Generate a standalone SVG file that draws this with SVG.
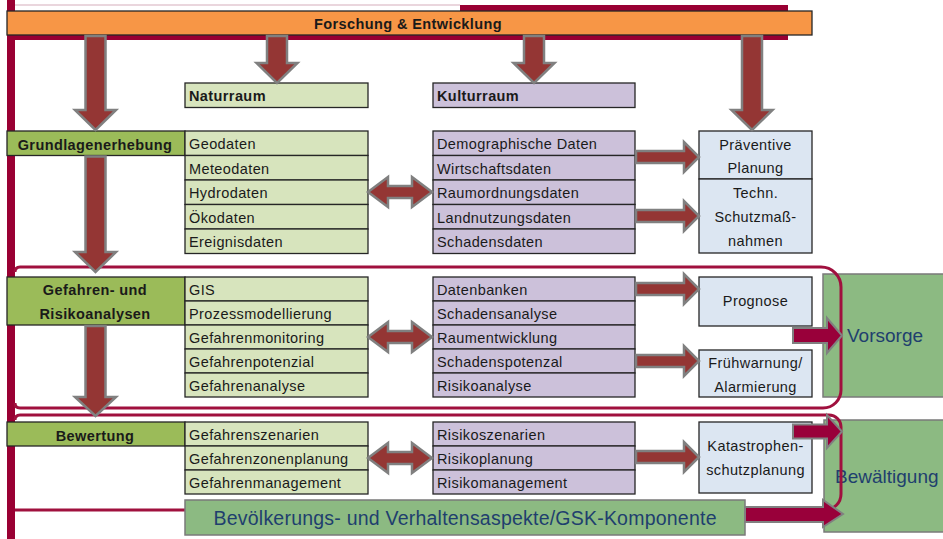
<svg xmlns="http://www.w3.org/2000/svg" width="943" height="539" viewBox="0 0 943 539">
<style>
.t{font-family:"Liberation Sans",Arial,sans-serif;font-size:14.5px;letter-spacing:0.4px;fill:#1a1a1a}
.b{font-weight:bold}
.c{text-anchor:middle}
.box{stroke:#262626;stroke-width:1.3}
.g1{fill:#9BBB59}.g2{fill:#D7E4BD}.pu{fill:#CCC1DA}.bl{fill:#DCE6F2}.or{fill:#F79646}
.big{fill:#8CBA82;stroke:#7a7a7a;stroke-width:1.5}
.bt{font-family:"Liberation Sans",Arial,sans-serif;fill:#1F3F6E}
.arr{fill:#943634;stroke:#808080;stroke-width:2.5}
.carr{fill:#99003A;stroke:#808080;stroke-width:2}
.frame{fill:none;stroke:#A0103E;stroke-width:3}
.crim{fill:#990033}
</style>
<rect width="943" height="539" fill="#fff"/>
<!-- crimson frame -->
<g id="frame">
<rect class="crim" x="7" y="0" width="8" height="539"/>
<line x1="15" y1="5" x2="460" y2="5" stroke="#e3c8d2" stroke-width="1.5"/>
<rect class="crim" x="460" y="5" width="328" height="8"/>
<rect class="crim" x="7" y="34" width="781" height="6"/>
</g>
<g id="vorsorge">
<rect class="big" x="823" y="274" width="125" height="123"/>
<text class="bt" x="847" y="342" font-size="19">Vorsorge</text>
</g>
<g id="bewaeltigung">
<rect class="big" x="824" y="420" width="125" height="112"/>
<text class="bt" x="835" y="483" font-size="19">Bewältigung</text>
</g>
<g id="phases">
<path class="frame" d="M15,272 Q15,267 20,267 H821 A20,20 0 0 1 841,287 V390 A18,18 0 0 1 823,408 H20 Q15,408 15,403"/>
<path class="frame" d="M15,420 Q15,415 20,415 H829 A12,12 0 0 1 841,427 V494 A16,16 0 0 1 825,510 H15"/>
</g>
<g id="forschung">
<rect class="or box" x="7" y="11" width="805" height="24"/>
<text class="t b c" x="408" y="28.5">Forschung &amp; Entwicklung</text>
</g>
<g id="naturraum">
<rect class="g2 box" x="185" y="83" width="183" height="24.5"/>
<text class="t b" x="189" y="101">Naturraum</text>
</g>
<g id="kulturraum">
<rect class="pu box" x="433" y="83" width="202" height="24.5"/>
<text class="t b" x="437" y="101">Kulturraum</text>
</g>
<g id="grundlagenerhebung">
<rect class="g1 box" x="7" y="131" width="178" height="24.5"/>
<text class="t b c" x="95" y="149.5">Grundlagenerhebung</text>
</g>
<g id="natur-grundlagen">
<rect class="g2 box" x="185" y="131" width="183" height="24.5"/>
<rect class="g2 box" x="185" y="155.5" width="183" height="24.5"/>
<rect class="g2 box" x="185" y="180" width="183" height="24.5"/>
<rect class="g2 box" x="185" y="204.5" width="183" height="24.5"/>
<rect class="g2 box" x="185" y="229" width="183" height="24.5"/>
<text class="t" x="189" y="149">Geodaten</text>
<text class="t" x="189" y="173.5">Meteodaten</text>
<text class="t" x="189" y="198">Hydrodaten</text>
<text class="t" x="189" y="222.5">Ökodaten</text>
<text class="t" x="189" y="247">Ereignisdaten</text>
</g>
<g id="kultur-grundlagen">
<rect class="pu box" x="433" y="131" width="202" height="24.5"/>
<rect class="pu box" x="433" y="155.5" width="202" height="24.5"/>
<rect class="pu box" x="433" y="180" width="202" height="24.5"/>
<rect class="pu box" x="433" y="204.5" width="202" height="24.5"/>
<rect class="pu box" x="433" y="229" width="202" height="24.5"/>
<text class="t" x="437" y="149">Demographische Daten</text>
<text class="t" x="437" y="173.5">Wirtschaftsdaten</text>
<text class="t" x="437" y="198">Raumordnungsdaten</text>
<text class="t" x="437" y="222.5">Landnutzungsdaten</text>
<text class="t" x="437" y="247">Schadensdaten</text>
</g>
<g id="praeventive-planung">
<rect class="bl box" x="699" y="131" width="113" height="48"/>
<text class="t c" x="755.5" y="150">Präventive</text>
<text class="t c" x="755.5" y="173">Planung</text>
</g>
<g id="techn-schutz">
<rect class="bl box" x="699" y="179" width="113" height="74"/>
<text class="t c" x="755.5" y="198">Techn.</text>
<text class="t c" x="755.5" y="222">Schutzmaß-</text>
<text class="t c" x="755.5" y="245.5">nahmen</text>
</g>
<g id="gefahren-risikoanalysen">
<rect class="g1 box" x="7" y="277" width="178" height="48"/>
<text class="t b c" x="95" y="295">Gefahren- und</text>
<text class="t b c" x="95" y="318.5">Risikoanalysen</text>
</g>
<g id="natur-analysen">
<rect class="g2 box" x="185" y="277" width="183" height="24"/>
<rect class="g2 box" x="185" y="301" width="183" height="24"/>
<rect class="g2 box" x="185" y="325" width="183" height="24"/>
<rect class="g2 box" x="185" y="349" width="183" height="24"/>
<rect class="g2 box" x="185" y="373" width="183" height="24"/>
<text class="t" x="189" y="294.5">GIS</text>
<text class="t" x="189" y="318.5">Prozessmodellierung</text>
<text class="t" x="189" y="342.5">Gefahrenmonitoring</text>
<text class="t" x="189" y="366.5">Gefahrenpotenzial</text>
<text class="t" x="189" y="390.5">Gefahrenanalyse</text>
</g>
<g id="kultur-analysen">
<rect class="pu box" x="433" y="277" width="202" height="24"/>
<rect class="pu box" x="433" y="301" width="202" height="24"/>
<rect class="pu box" x="433" y="325" width="202" height="24"/>
<rect class="pu box" x="433" y="349" width="202" height="24"/>
<rect class="pu box" x="433" y="373" width="202" height="24"/>
<text class="t" x="437" y="294.5">Datenbanken</text>
<text class="t" x="437" y="318.5">Schadensanalyse</text>
<text class="t" x="437" y="342.5">Raumentwicklung</text>
<text class="t" x="437" y="366.5">Schadenspotenzal</text>
<text class="t" x="437" y="390.5">Risikoanalyse</text>
</g>
<g id="prognose">
<rect class="bl box" x="699" y="277" width="113" height="49"/>
<text class="t c" x="755.5" y="306">Prognose</text>
</g>
<g id="fruehwarnung">
<rect class="bl box" x="699" y="350" width="113" height="47"/>
<text class="t c" x="755.5" y="367.5">Frühwarnung/</text>
<text class="t c" x="755.5" y="391.5">Alarmierung</text>
</g>
<g id="bewertung">
<rect class="g1 box" x="7" y="422" width="178" height="24"/>
<text class="t b c" x="95" y="440.5">Bewertung</text>
</g>
<g id="natur-bewertung">
<rect class="g2 box" x="185" y="422" width="183" height="24"/>
<rect class="g2 box" x="185" y="446" width="183" height="24"/>
<rect class="g2 box" x="185" y="470" width="183" height="24"/>
<text class="t" x="189" y="439.5">Gefahrenszenarien</text>
<text class="t" x="189" y="463.5">Gefahrenzonenplanung</text>
<text class="t" x="189" y="487.5">Gefahrenmanagement</text>
</g>
<g id="kultur-bewertung">
<rect class="pu box" x="433" y="422" width="202" height="24"/>
<rect class="pu box" x="433" y="446" width="202" height="24"/>
<rect class="pu box" x="433" y="470" width="202" height="24"/>
<text class="t" x="437" y="439.5">Risikoszenarien</text>
<text class="t" x="437" y="463.5">Risikoplanung</text>
<text class="t" x="437" y="487.5">Risikomanagement</text>
</g>
<g id="katastrophenschutz">
<rect class="bl box" x="699" y="422" width="113" height="71"/>
<text class="t c" x="755.5" y="451">Katastrophen-</text>
<text class="t c" x="755.5" y="475">schutzplanung</text>
</g>
<g id="bevoelkerung">
<rect class="big" x="185" y="500" width="560" height="35"/>
<text class="bt c" x="465" y="525" font-size="19.5" textLength="503" lengthAdjust="spacing">Bevölkerungs- und Verhaltensaspekte/GSK-Komponente</text>
</g>
<g id="connectors">
<!-- down arrows -->
<polygon class="arr" points="85.5,36 105.5,36 105.5,110 116,110 95.5,130 75,110 85.5,110"/>
<polygon class="arr" points="267,36 287,36 287,63 297.5,63 277,83 256.5,63 267,63"/>
<polygon class="arr" points="524,36 544,36 544,63 554.5,63 534,83 513.5,63 524,63"/>
<polygon class="arr" points="742,36 762,36 762,110 772.5,110 752,130 731.5,110 742,110"/>
<polygon class="arr" points="85.5,156.5 105.5,156.5 105.5,252 116,252 95.5,272 75,252 85.5,252"/>
<polygon class="arr" points="85.5,326 105.5,326 105.5,397 116,397 95.5,416 75,397 85.5,397"/>
<!-- right arrows -->
<polygon class="arr" points="636,151 684,151 684,142 699,157 684,172 684,163 636,163"/>
<polygon class="arr" points="636,210 684,210 684,201 699,216 684,231 684,222 636,222"/>
<polygon class="arr" points="636,283 684,283 684,274 699,289 684,304 684,295 636,295"/>
<polygon class="arr" points="636,355 684,355 684,346 699,361 684,376 684,367 636,367"/>
<polygon class="arr" points="636,451 684,451 684,442 699,457 684,472 684,463 636,463"/>
<!-- double arrows -->
<polygon class="arr" points="368,192 388,177 388,186 412,186 412,177 432,192 412,207 412,198 388,198 388,207"/>
<polygon class="arr" points="368,337 388,322 388,331 412,331 412,322 432,337 412,352 412,343 388,343 388,352"/>
<polygon class="arr" points="368,458 388,443 388,452 412,452 412,443 432,458 412,473 412,464 388,464 388,473"/>
<!-- crimson arrows -->
<polygon class="carr" points="793,328 827,328 827,318 842,335.5 827,353 827,343 793,343"/>
<polygon class="carr" points="793,424.5 827,424.5 827,415 842,431.5 827,448 827,438.5 793,438.5"/>
<polygon class="carr" points="745,507 823,507 823,500 843,514 823,527 823,522 745,522"/>
</g>
</svg>
